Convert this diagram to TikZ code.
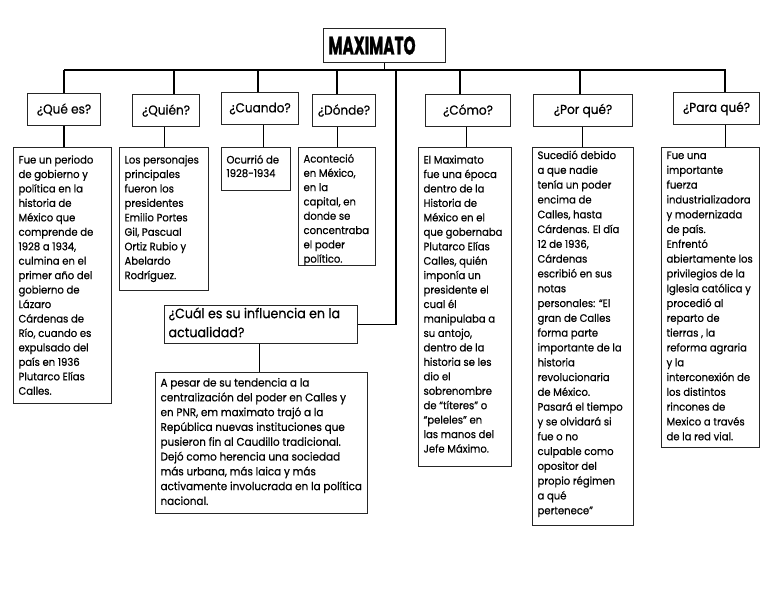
\documentclass[tikz,border=0pt]{standalone}
\usepackage{fontspec}
\setmainfont[FakeStretch=0.93,FakeBold=0.5]{Poppins}
\newfontfamily\titlefont[FakeBold=1.5]{Poppins}
\newcommand\cbx[5]{\begin{minipage}[c][#2pt][t]{#1pt}\vspace*{#3pt}\leftskip=5pt\rightskip=0pt plus 1fil\parindent=0pt #4\rule{0pt}{10pt}#5\end{minipage}}
\newcommand\bodyL{\fontsize{10.8}{14.45}\selectfont}
\newcommand\bodyR{\fontsize{10.8}{14.8}\selectfont}
\begin{document}
\begin{tikzpicture}[x=1pt,y=-1pt,
  conn/.style={line width=1.8pt,black},
  thinconn/.style={line width=1pt,black},
  box/.style={draw=black!85,line width=1.1pt,anchor=north west,inner sep=0pt},
  hbox/.style={box,font=\fontsize{13}{16}\selectfont},
]
\useasboundingbox[fill=white] (0,0) rectangle (768,594);
% title
\node[box,minimum width=122pt,minimum height=34pt] (top) at (323,28)
  {\makebox[112pt][l]{\resizebox{87pt}{18pt}{\titlefont\bfseries MAXIMATO}}};
% headers
\node[hbox,minimum width=73pt,minimum height=32pt] (qh) at (27,93) {¿Qué es?};
\node[hbox,minimum width=67pt,minimum height=32pt] (wh) at (132,94) {¿Quién?};
\node[hbox,minimum width=77pt,minimum height=32pt] (ch) at (221,92) {¿Cuando?};
\node[hbox,minimum width=63pt,minimum height=32pt] (dh) at (312,94) {¿Dónde?};
\node[hbox,minimum width=85pt,minimum height=32pt] (mh) at (425,94) {¿Cómo?};
\node[hbox,minimum width=99pt,minimum height=32pt] (ph) at (533,94) {¿Por qué?};
\node[hbox,minimum width=86pt,minimum height=32pt] (fh) at (673,92) {¿Para qué?};
\node[box] (uh) at (164,305) {\cbx{193}{38}{2}{\fontsize{13.6}{19}\selectfont\leftskip=4pt}{¿Cuál es su influencia en la\\ actualidad?}};
% contents
\node[box] (qc) at (13,147) {\cbx{98}{256}{6}{\bodyL}{Fue un periodo\\ de gobierno y\\ política en la\\ historia de\\ México que\\ comprende de\\ 1928 a 1934,\\ culmina en el\\ primer año del\\ gobierno de\\ Lázaro\\ Cárdenas de\\ Río, cuando es\\ expulsado del\\ país en 1936\\ Plutarco Elías\\ Calles.}};
\node[box] (wc) at (119,147) {\cbx{89}{143}{6}{\bodyL}{Los personajes\\ principales\\ fueron los\\ presidentes\\ Emilio Portes\\ Gil, Pascual\\ Ortiz Rubio y\\ Abelardo\\ Rodríguez.}};
\node[box] (cc) at (221,147) {\cbx{69}{43}{6}{\fontsize{10.8}{13.5}\selectfont}{Ocurrió de\\ 1928-1934}};
\node[box] (dc) at (298,147) {\cbx{77}{118}{5}{\fontsize{10.8}{14.3}\selectfont}{Aconteció\\ en México,\\ en la\\ capital, en\\ donde se\\ concentraba\\ el poder\\ político.}};
\node[box] (mc) at (418,147) {\cbx{93}{319}{6}{\bodyL}{El Maximato\\ fue una época\\ dentro de la\\ Historia de\\ México en el\\ que gobernaba\\ Plutarco Elías\\ Calles, quién\\ imponía un\\ presidente el\\ cual él\\ manipulaba a\\ su antojo,\\ dentro de la\\ historia se les\\ dio el\\ sobrenombre\\ de “títeres” o\\ “peleles” en\\ las manos del\\ Jefe Máximo.}};
\node[box] (pc) at (532,147) {\cbx{101}{378}{1.5}{\bodyR}{Sucedió debido\\ a que nadie\\ tenía un poder\\ encima de\\ Calles, hasta\\ Cárdenas. El día\\ 12 de 1936,\\ Cárdenas\\ escribió en sus\\ notas\\ personales: “El\\ gran de Calles\\ forma parte\\ importante de la\\ historia\\ revolucionaria\\ de México.\\ Pasará el tiempo\\ y se olvidará si\\ fue o no\\ culpable como\\ opositor del\\ propio régimen\\ a qué\\ pertenece”}};
\node[box] (fc) at (661,147) {\cbx{98}{300}{1.5}{\bodyR}{Fue una\\ importante\\ fuerza\\ industrializadora\\ y modernizada\\ de país.\\ Enfrentó\\ abiertamente los\\ privilegios de la\\ Iglesia católica y\\ procedió al\\ reparto de\\ tierras , la\\ reforma agraria\\ y la\\ interconexión de\\ los distintos\\ rincones de\\ Mexico a través\\ de la red vial.}};
\node[box] (uc) at (155,372) {\cbx{212}{141}{4}{\fontsize{11.2}{14.8}\selectfont}{A pesar de su tendencia a la\\ centralización del poder en Calles y\\ en PNR, em maximato trajó a la\\ República nuevas instituciones que\\ pusieron fin al Caudillo tradicional.\\ Dejó como herencia una sociedad\\ más urbana, más laica y más\\ activamente involucrada en la política\\ nacional.}};
% bus
\coordinate (busL) at (63,70);
\coordinate (busR) at (725,70);
\coordinate (b2) at (174,70);
\coordinate (b3) at (258,70);
\coordinate (b4) at (337,70);
\coordinate (b5) at (396,70);
\coordinate (b6) at (460,70);
\coordinate (b7) at (580,70);
\draw[conn] (top.south) -- (top.south |- busL);
\draw[conn] (qh.north |- busL) -- (busR) -- (busR |- fh.north);
\draw[conn] (qh.north |- busL) -- (qh.north);
\draw[conn] (b2) -- (b2 |- wh.north);
\draw[conn] (b3) -- (b3 |- ch.north);
\draw[conn] (b4) -- (b4 |- dh.north);
\draw[conn] (b6) -- (b6 |- mh.north);
\draw[conn] (b7) -- (b7 |- ph.north);
% header to content
\draw[conn] (qh.south) -- (qh.south |- qc.north);
\draw[conn] ([xshift=-1.5pt]wh.south) -- ([xshift=-1.5pt]wh.south |- wc.north);
\draw[thinconn] ([xshift=3.5pt]ch.south) -- ([xshift=3.5pt]ch.south |- cc.north);
\draw[conn] ([xshift=-6.5pt]dh.south) -- ([xshift=-6.5pt]dh.south |- dc.north);
\draw[conn] ([xshift=-1.5pt]mh.south) -- ([xshift=-1.5pt]mh.south |- mc.north);
\draw[conn] ([xshift=-0.5pt]ph.south) -- ([xshift=-0.5pt]ph.south |- pc.north);
\draw[conn] ([xshift=9pt]fh.south) -- ([xshift=9pt]fh.south |- fc.north);
% influence
\draw[conn] (uh.east) -| (b5);
\draw[thinconn] ([xshift=-1.5pt]uh.south) -- ([xshift=-1.5pt]uh.south |- uc.north);
\end{tikzpicture}
\end{document}
